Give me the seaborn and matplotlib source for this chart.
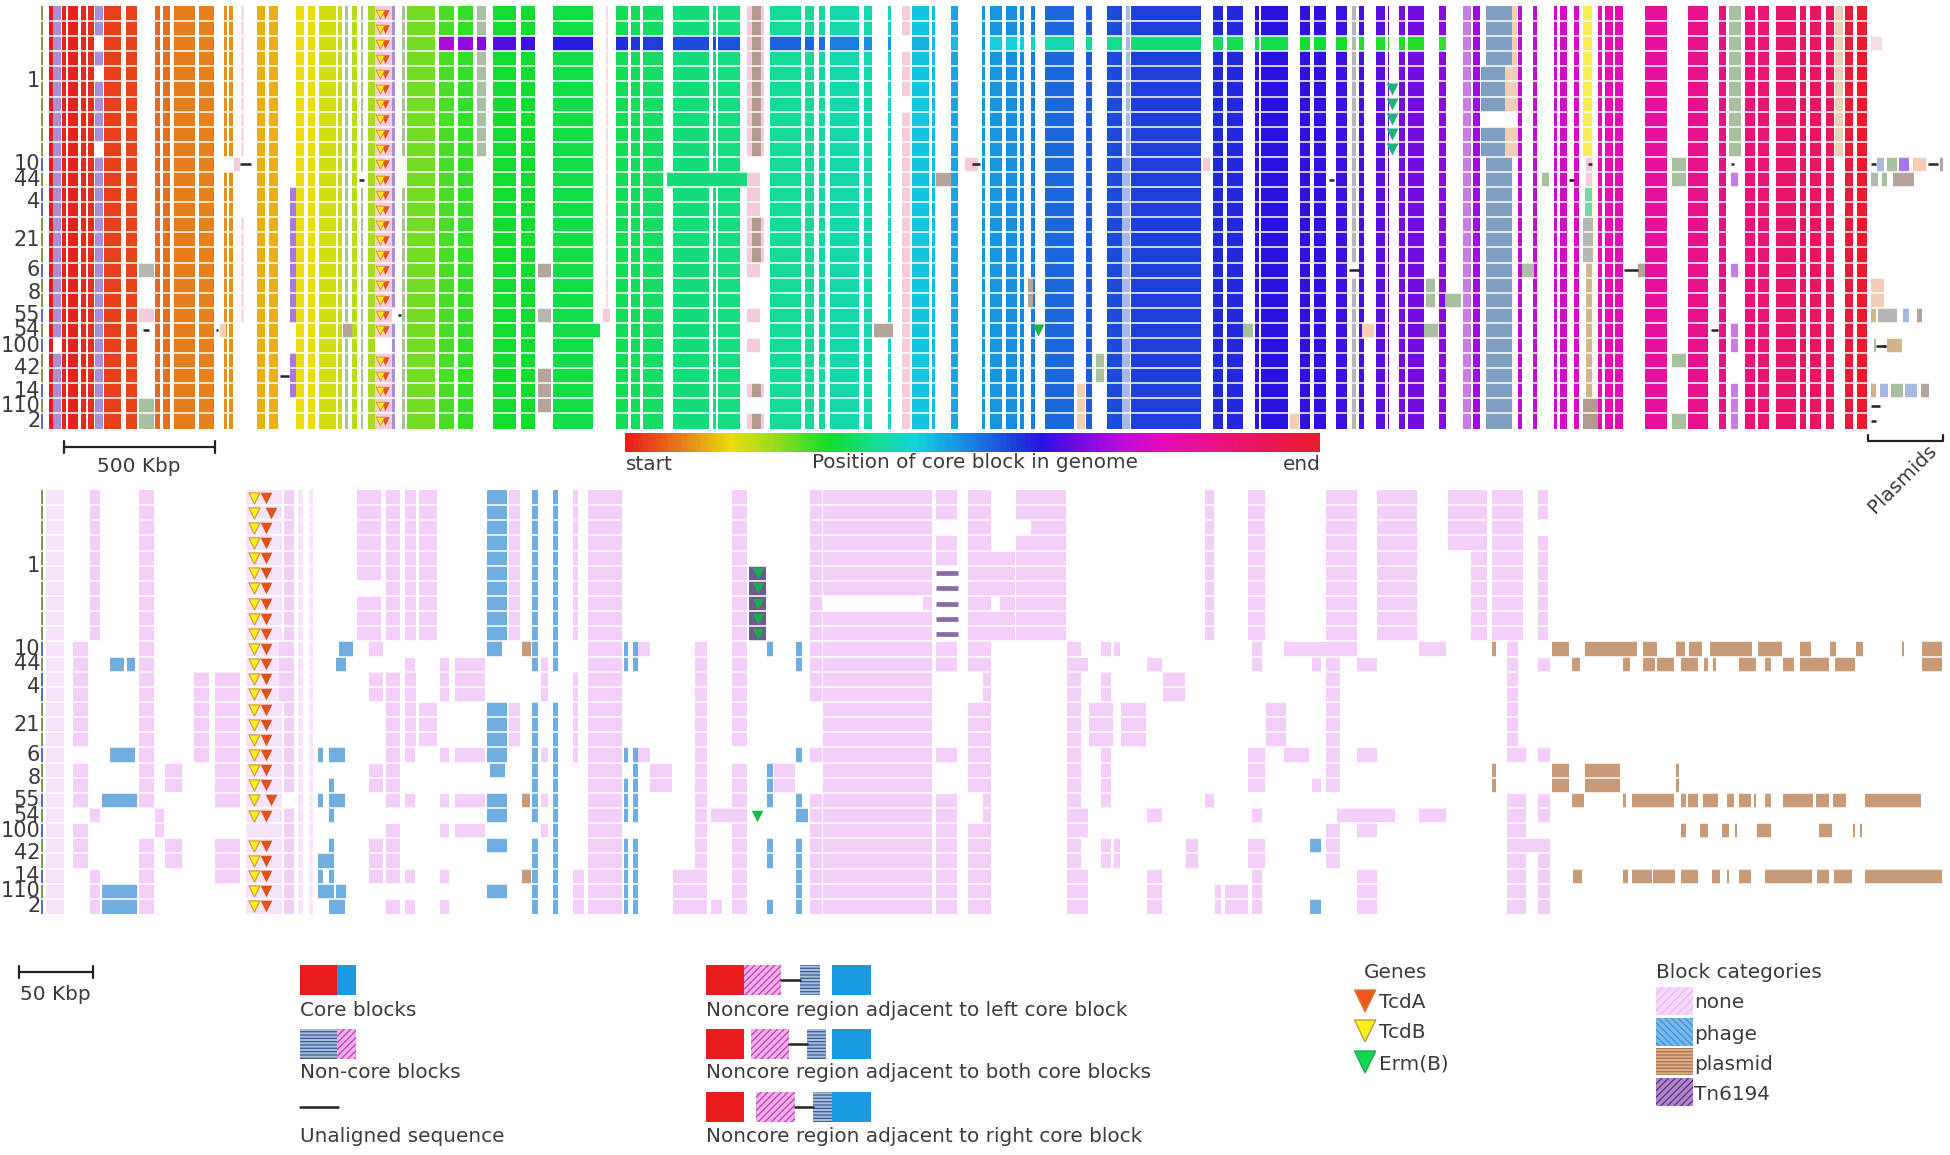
import numpy as np
import matplotlib
matplotlib.use('Agg')
import matplotlib.pyplot as plt
from matplotlib.colors import LinearSegmentedColormap, ListedColormap
from matplotlib.patches import Rectangle, Polygon
import seaborn as sns

sns.set_theme(style='white')
plt.rcParams['font.family'] = ['DejaVu Sans']
plt.rcParams['hatch.linewidth'] = 0.9


def R(a, b):
    return list(range(a, b + 1))


ALL = R(0, 27)

# strains, with the row numbers that belong to each label
strain_labels = ['1', '10', '44', '4', '21', '6', '8', '55', '54', '100', '42', '14', '110', '2']
strain_first = [0, 10, 11, 12, 14, 17, 18, 20, 21, 22, 23, 25, 26, 27]
strain_last = [9, 10, 11, 13, 16, 17, 19, 20, 21, 22, 24, 25, 26, 27]
strip_blue_rows = [10, 12, 13, 17, 20, 22, 25, 27]

# colour scale of the core block position
scale_pos = [0, .08, .15, .22, .29, .36, .42, .50, .56, .60, .66, .72, .78, .87, 1]
scale_col = ['#e81c1c', '#e57f1c', '#e9dc0c', '#8fdc20', '#12dc2d', '#16dc90', '#14cfdc', '#1a7fe0',
             '#1d3fd8', '#2a12e0', '#7a0ce0', '#c00cd8', '#e60cb8', '#e81478', '#e81c2c']

# core blocks, upper map: start, end, position in genome
core_start = [48.9, 62.2, 68.4, 80.8, 87.9, 103.6, 126, 155, 162.5, 174.1, 199, 223.8, 228.8, 257, 268.6,
              296.4, 307.6, 319.2, 337.8, 352.3, 368, 407, 439.4, 458, 493.3, 521.4, 552.9, 616, 631.3, 643.3,
              672.8, 713, 718.4, 770.2, 805.4, 818.7, 829.5, 863.5, 888.3, 912, 931.9, 951.3, 981.6, 989.9,
              1005.6, 1019.7, 1031.3, 1045, 1085.6, 1107.2, 1130.8, 1212.9, 1227, 1255.2, 1261.4, 1300, 1313.7,
              1335.6, 1358.9, 1375.9, 1387.5, 1398.7, 1407.8, 1439.3, 1472.8, 1518.4, 1533.4, 1553.7, 1560.3,
              1573.6, 1597.6, 1604.7, 1615, 1645.3, 1688.4, 1718.7, 1744.8, 1758.4, 1775.8, 1800.3, 1809.8,
              1826.4, 1845.1, 1856.7]
core_end = [53.1, 66.3, 77.9, 85.8, 93.7, 121, 136.8, 160, 170, 194.8, 213.9, 227.1, 233, 265.3, 277.7,
            303.8, 315, 335.7, 341.5, 357.3, 375.1, 435.2, 453.9, 472.5, 516, 534.7, 592.7, 628, 640.4, 663.3,
            708.9, 715.5, 740, 801.3, 813.7, 825.3, 859.3, 872.2, 891.2, 928.5, 934.8, 958, 984.9, 1002.3,
            1016.8, 1024.3, 1034.7, 1073.6, 1091.9, 1121.7, 1201.3, 1222.8, 1242.7, 1259.3, 1287.5, 1310.4,
            1325.7, 1347.3, 1363.8, 1385, 1389.1, 1405.3, 1423.5, 1445.9, 1479.5, 1521.8, 1536.7, 1557, 1567.4,
            1579, 1601.8, 1613, 1622.5, 1666.8, 1707.5, 1725.7, 1754.7, 1769.2, 1796.2, 1805.7, 1821,
            1833.5, 1852.5, 1867]
core_pos = [0, .005, .005, .01, .015, .03, .035, .065, .07, .08, .085, .095, .095, .12, .12,
            .15, .15, .17, .175, .19, .20, .235, .26, .27, .29, .29, .31, .32, .325, .33,
            .345, .345, .35, .365, .37, .375, .38, .385, .40, .43, .44, .46, .48, .48,
            .485, .49, .50, .52, .535, .55, .56, .58, .58, .60, .60, .605, .605,
            .61, .62, .635, .64, .655, .655, .67, .69, .72, .73, .74, .75,
            .76, .78, .78, .785, .82, .84, .86, .87, .875, .89, .90, .91,
            .92, .97, 1.0]

# the third strain carries a large inversion: these blocks have other colours there
flip_start = [439.4, 458, 476.7, 493.3, 521.4, 552.9, 616, 631.3, 643.3, 672.8, 713, 718.4, 770.2, 805.4, 818.7,
              829.5, 863.5, 888.3, 912, 931.9, 951.3, 989.9, 1005.6, 1019.7, 1031.3, 1045, 1085.6, 1107.2, 1130.8,
              1212.9, 1227, 1255.2, 1261.4, 1300, 1313.7, 1335.6, 1358.9, 1375.9, 1387.5, 1398.7, 1407.8, 1439.3]
flip_end = [453.9, 472.5, 485.8, 516, 534.7, 592.7, 628, 640.4, 663.3, 708.9, 715.5, 740, 801.3, 813.7, 825.3,
            859.3, 872.2, 891.2, 928.5, 934.8, 958, 1002.3, 1016.8, 1024.3, 1034.7, 1073.6, 1091.9, 1121.7, 1201.3,
            1222.8, 1242.7, 1259.3, 1287.5, 1310.4, 1325.7, 1347.3, 1363.8, 1385, 1389.1, 1405.3, 1423.5, 1445.9]
flip_pos = [.70, .68, .665, .63, .61, .59, .575, .565, .56, .55, .55, .54, .53, .525, .515,
            .50, .485, .47, .45, .44, .44, .42, .415, .41, .40, .385, .37, .36, .34,
            .325, .32, .315, .31, .295, .295, .29, .285, .285, .28, .28, .28, .27]

# single strain differences in the core blocks
core_gap = [(223.8, 233, 10), (53, 61, 22), (378, 385.5, 22)]
core_more = [(667, 747, .345, 11), (552.9, 600, .31, 21)]

# non core blocks of the upper map
nc_names = ['strip_g', 'strip_b', 'lilac', 'rose', 'sage', 'grey', 'taupe', 'violet', 'brown', 'peach', 'steel',
            'orchid', 'phage', 'yellow', 'mint', 'tan', 'pale']
nc_colors = ['#7f9c40', '#4f6fd2', '#a890d8', '#f5cbdc', '#a9c0a0', '#b5b8b0', '#b4a49c', '#a678ec', '#b39a8e',
             '#f3cdb4', '#a8b8e0', '#c77ee4', '#7f9fc2', '#f6ee52', '#78d8a4', '#d2b48c', '#f3dce8']
upper_noncore = [
    (53.1, 61.3, 'lilac', R(0, 21) + R(23, 27)),
    (94.5, 102.8, 'lilac', [0, 1, 3, 5, 6, 7, 8] + R(10, 27)),
    (375, 391.7, 'rose', R(0, 21) + R(23, 27)), (391.7, 395, 'lilac', R(0, 19) + R(21, 27)),
    (402, 405, 'sage', R(0, 9) + R(12, 27)), (345, 348, 'sage', R(0, 20) + R(22, 27)), (361, 363, 'sage', R(0, 10) + R(12, 27)),
    (476.7, 485.8, 'sage', [0, 1, 3, 4, 5, 6, 7, 8, 9]),
    (139, 154, 'grey', [17]), (139, 154, 'rose', [20]), (139, 154, 'sage', [26, 27]),
    (538, 551, 'taupe', [17, 24, 25, 26]), (538, 551, 'grey', [20]),
    (234, 240, 'rose', [10]), (241, 244, 'pale', R(0, 9) + R(14, 20)),
    (290, 296, 'violet', R(12, 20) + [23, 24, 25]),
    (343, 351.5, 'taupe', [21]), (220, 226, 'peach', [21]),
    (605.5, 608, 'pale', R(0, 9) + R(10, 20)), (603, 610, 'rose', [20]),
    (752, 761, 'brown', R(0, 9) + R(14, 16) + [25, 27]),
    (747.4, 752, 'rose', R(0, 9) + R(14, 16) + [25, 27]), (761, 764, 'rose', R(0, 9) + R(14, 16) + [25, 27]),
    (747.4, 760, 'rose', [11, 12, 13, 17, 20, 22]),
    (902, 910.3, 'rose', [0, 1, 3, 4, 5, 7, 8, 9] + R(10, 27)),
    (936, 950.5, 'taupe', [11]), (965, 977.5, 'rose', [10]), (874, 892.5, 'taupe', [21]),
    (1028, 1033, 'taupe', [18, 19]), (1095.6, 1104, 'sage', [23, 24]),
    (1077, 1085, 'peach', [25, 26, 27]), (1121.7, 1130, 'steel', R(10, 27)), (1126, 1130, 'steel', R(0, 9)),
    (1203.4, 1209.6, 'rose', [10]), (1243, 1253, 'sage', [21]), (1290.4, 1298.7, 'peach', [27]),
    (1351.8, 1356, 'grey', R(0, 16) + R(18, 27)), (1362, 1373.8, 'peach', [21]),
    (1425.6, 1434.7, 'sage', [18, 19]), (1424, 1437.6, 'sage', [21]), (1445, 1461, 'sage', [19]),
    (1462.9, 1471.2, 'orchid', ALL),
    (1485.7, 1512.2, 'phage', R(0, 3) + R(10, 27)),
    (1480.5, 1505, 'phage', [4, 5, 6, 8, 9]), (1505, 1517.6, 'peach', [4, 5, 6, 8, 9]),
    (1512.2, 1517, 'peach', [0, 1, 2, 3]),
    (1521.8, 1534.2, 'grey', [17]), (1541.6, 1548.7, 'sage', [11]),
    (1583.1, 1592.2, 'yellow', R(0, 9)), (1585, 1592, 'mint', [12, 13]), (1583, 1593, 'grey', [14, 15, 16]),
    (1586, 1592, 'tan', R(17, 25)), (1583, 1598, 'brown', [26, 27]), (1586, 1592, 'rose', [10, 11]),
    (1638, 1645, 'taupe', [17]),
    (1672, 1685.5, 'sage', [10, 11, 23, 27]),
    (1729, 1741.4, 'sage', R(0, 9)), (1731, 1738, 'orchid', [11, 17, 21, 22, 25, 26, 27]),
    (1834.7, 1843, 'peach', R(0, 9)),
    (1871, 1882, 'pale', [2]),
    (1877, 1884.4, 'steel', [10]), (1886.5, 1896.9, 'sage', [10]), (1899, 1909.3, 'violet', [10]),
    (1912.6, 1925.9, 'peach', [10]), (1940.4, 1942.5, 'taupe', [10]),
    (1871.2, 1878.2, 'grey', [11]), (1882.4, 1886.5, 'sage', [11]), (1892.7, 1913.5, 'taupe', [11]),
    (1871.2, 1883.6, 'peach', [18, 19]), (1871.2, 1876.1, 'tan', [20]), (1878.2, 1896.9, 'grey', [20]),
    (1903.1, 1909.3, 'steel', [20]), (1916.8, 1921.8, 'taupe', [20]),
    (1874, 1876, 'sage', [22]), (1886.5, 1901.9, 'tan', [22]),
    (1871.2, 1876.1, 'tan', [25]), (1879.5, 1887.8, 'steel', [25]), (1890.7, 1903.1, 'sage', [25]),
    (1905.2, 1916.8, 'steel', [25]), (1920.5, 1929.2, 'taupe', [25]),
]

# unaligned sequence: row, start, end
dash_row = [10, 11, 21, 21, 24, 20, 10, 11, 17, 17, 21, 10, 11, 22, 10, 26, 27, 22, 10, 11, 10]
dash_start = [240, 358.5, 143, 215.5, 280, 398, 972, 1329, 1349, 1624, 1711, 1871.2, 1570, 1876, 1928, 1871.2, 1871.2, 1883, 1731, 1569, 1588]
dash_end = [251, 363.5, 149, 217.6, 288.5, 401, 979.5, 1334, 1359, 1638, 1718, 1876.1, 1574, 1886, 1938.3, 1880.3, 1876.1, 1886, 1734, 1572, 1592]

# block categories of the lower map
faint_blocks = [(46.4, 64.2, ALL), (298, 303, ALL), (309, 313, ALL), (246, 282, ALL)]
none_blocks = [
    (72.5, 87.9, R(10, 16) + R(18, 20) + [22, 23, 24]), (90, 100.3, R(0, 9) + [21, 25, 26, 27]),
    (138.9, 154.2, R(0, 20) + R(23, 27)), (155.4, 163.7, [21, 22]), (164.6, 181.5, [18, 19, 23, 24]),
    (194, 209.3, R(12, 17)), (214.7, 239.6, R(12, 20) + [23, 24, 25]), (284, 294.3, R(0, 19) + R(21, 27)),
    (278.6, 284, [10, 11, 12, 13]), (357.3, 381.3, R(0, 5) + R(7, 9)), (385.5, 400, R(0, 9) + R(12, 16)),
    (405, 415.7, R(0, 9) + R(12, 16)), (418.6, 436.5, R(0, 9) + R(14, 16)), (455, 485, [11, 12, 13, 17, 20, 22]),
    (509, 520, R(0, 9) + R(14, 16)), (573, 578, R(0, 9) + R(12, 17)), (573, 584, [25, 26, 27]),
    (587.8, 621.8, ALL), (369, 383, [10, 12, 13, 18, 19, 23, 24, 25]), (385.5, 400, [17, 18, 19, 20, 22, 23, 24, 25, 27]),
    (405, 414.5, [11, 17, 20, 25, 27]), (440, 448.5, [11, 12, 13, 17, 20, 22, 25, 27]), (541, 548, [11, 12, 13, 17, 20, 22]),
    (638, 650, [10, 17]), (650, 671.6, [18, 19]), (694.8, 706.8, R(10, 27)), (672.8, 706.8, [25, 26, 27]),
    (711.3, 746.6, [21]), (711.3, 722, [27]), (731.7, 747.4, R(0, 16) + R(18, 20) + R(22, 27)),
    (773.5, 795, [18, 19]), (809.6, 822, R(0, 13) + [17, 20, 21, 22, 23, 24, 25, 26, 27]),
    (823.3, 931.9, R(0, 6) + R(8, 27)), (923, 931.9, [7]), (809.6, 822, [7]),
    (936, 956.7, [0, 1, 3, 4] + [10, 11, 17, 20, 21, 22, 23, 24, 25, 26, 27]),
    (968, 990.7, R(0, 11) + R(14, 19) + R(22, 27)), (982.8, 990.7, [12, 13, 20, 21]),
    (990.7, 1014.8, [4, 5, 6, 8, 9]), (1000, 1014.8, [7]), (1015.6, 1031.3, [0, 1, 3, 4, 5, 6, 7, 8, 9]),
    (1031.3, 1065.7, R(0, 9)), (1066.6, 1081, R(10, 27)), (1081, 1088, [11, 21, 22, 25, 26, 27]),
    (1101, 1111, [10, 12, 13, 17, 18, 19, 20, 23, 24]), (1113.7, 1119.6, [10, 23, 24]), (1089.4, 1113.4, [14, 15, 16]),
    (1120.5, 1146, [14, 15, 16]), (1146.6, 1162, [11, 21, 25, 26, 27]), (1163.2, 1184.7, [12, 13]),
    (1186, 1198, [23, 24]), (1204.6, 1213.7, R(0, 9) + [20]), (1214.6, 1221.2, [26, 27]), (1225.3, 1247.7, [26, 27]),
    (1248.1, 1264.7, R(0, 9) + [17, 18, 19, 23, 24]), (1252, 1262, [10, 11, 21, 25, 26, 27]),
    (1266.4, 1286.3, [14, 15, 16]), (1284, 1300, [10, 17]),
    (1325.7, 1356.8, R(0, 9)), (1300, 1356.8, [10]), (1325.7, 1340.2, R(11, 19) + [22, 23, 24]),
    (1336.5, 1394.5, [21]), (1312.4, 1320.7, [11, 19]), (1300, 1309, [17]), (1377.1, 1417.3, R(0, 9)),
    (1357.2, 1376.7, [11, 17, 22, 25, 26, 27]), (1419.4, 1446.3, [10, 21]), (1448, 1475.3, [0, 1, 2, 3]),
    (1470.8, 1486.5, R(0, 9)), (1491.9, 1523, R(0, 9)), (1507.3, 1517.6, R(10, 16)), (1507.3, 1525.9, [17] + R(20, 27)),
    (1537.5, 1547.5, [0, 1, 3, 4, 5, 6, 7, 8, 9]), (1537.5, 1550, [11, 17, 20, 21, 24, 25, 26, 27]), (1515.5, 1550, [23]),
]
phage_blocks = [
    (110, 123.5, [11]), (126.5, 134.7, [11]), (110, 134.7, [17]), (101.6, 137, [20, 26, 27]),
    (339, 353, [10]), (336, 346, [11]), (318, 333.7, [24, 26]), (318, 323, [17, 20, 25]),
    (328.7, 345, [17, 20, 27]), (328.7, 333.7, [19, 21, 23, 25]), (336, 346, [26]),
    (487, 506.5, R(0, 9) + R(14, 17) + [20, 21, 23, 26]), (487, 502, [10]), (490, 505, [18]),
    (531.8, 538, R(0, 11) + R(14, 21) + R(23, 27)), (553.4, 557.5, R(0, 11) + R(14, 27)),
    (623.8, 628, [10, 11, 17, 19, 20, 21, 23, 24, 25, 26, 27]),
    (633.3, 638.3, [10, 11, 17, 18, 19, 20, 21, 23, 24, 25, 26, 27]),
    (767.3, 773.1, [10, 18, 19, 20, 23, 24, 27]), (795.9, 801.7, [10, 11, 17, 20, 23, 24, 25, 26, 27]),
    (795.9, 808, [21]), (1310.4, 1320.7, [23, 27]),
]
tn_blocks = [(748.7, 766, R(5, 9))]
plasmid_blocks = [
    (521.5, 531.4, [10, 25]), (521.5, 530, [20]), (1491.5, 1495.6, [10, 18, 19]),
    (1551.6, 1569.4, [10, 18, 19]), (1585.2, 1620, [18, 19]), (1676.4, 1678.9, [18, 19]),
    (1585.2, 1636.6, [10]), (1642.8, 1656.5, [10]), (1676, 1684.7, [10]), (1688.8, 1702.1, [10]),
    (1710.4, 1751.8, [10]), (1757.6, 1781.6, [10]), (1799.5, 1811.1, [10]), (1829.7, 1835.5, [10]),
    (1856.3, 1862.9, [10]), (1902.3, 1903.9, [10]), (1921.8, 1941.6, [10, 11]),
    (1571.5, 1579.8, [11]), (1623.3, 1630.4, [11]), (1642.8, 1654.8, [11]), (1657.3, 1673.9, [11]),
    (1680.5, 1697.9, [11]), (1704.1, 1708.3, [11]), (1712.8, 1715.7, [11]), (1738.5, 1755.9, [11]),
    (1765.1, 1770.9, [11]), (1782.9, 1794.1, [11]), (1799.5, 1828.5, [11]), (1834.7, 1855.4, [11]),
    (1572.3, 1584.3, [20]), (1623.3, 1626.2, [20]), (1631.6, 1674.3, [20]), (1680.5, 1685.5, [20]),
    (1688.4, 1697.9, [20]), (1703.3, 1717.8, [20]), (1726.9, 1734.4, [20]), (1738.5, 1751, [20]),
    (1753.9, 1755.9, [20]), (1765.1, 1770.9, [20]), (1782.9, 1812.7, [20]), (1816.1, 1828.5, [20]),
    (1832.6, 1846.3, [20]), (1864.5, 1920.9, [20]),
    (1680.5, 1685.5, [22]), (1700, 1708.3, [22]), (1721.5, 1729.4, [22]), (1735.2, 1737.3, [22]),
    (1756.8, 1770.9, [22]), (1819, 1832.2, [22]), (1853.3, 1855.4, [22]), (1859.6, 1862.1, [22]),
    (1572.7, 1581.9, [25]), (1623.3, 1628.3, [25]), (1631.6, 1651.5, [25]), (1653.2, 1674.7, [25]),
    (1680.5, 1697.9, [25]), (1712.4, 1719.9, [25]), (1726.9, 1728.6, [25]), (1738.5, 1750.6, [25]),
    (1765.1, 1811.9, [25]), (1816.9, 1828.5, [25]), (1833.5, 1852.1, [25]), (1864.5, 1941.6, [25]),
]
tn_thin_rows = R(5, 9)
tn_thin_span = (936, 958)

# genes
tcdb_rows = R(0, 21) + R(23, 27)
tcda_rows = R(0, 21) + R(23, 27)
erm_rows = R(5, 9)
top_tcdb_x, top_tcda_x, top_erm_x, top_erm_x_54 = 380, 385, 1392, 1037.6
low_tcdb_x, low_tcda_x, low_erm_x, low_erm_x_54 = 253.7, 266, 757.8, 756.5
low_tcda_shift_rows = [1, 20]
low_tcda_shift_x = 270.7

X0, X1 = 41, 1950
PER = 2
ncols = (X1 - X0) * PER
text_col = '#3a3a3a'


def cx(x):
    return (np.asarray(x) - X0) * PER


def put(mat, x0, x1, rows, value):
    mat[np.ix_(rows, np.arange(int(cx(x0)), int(cx(x1))))] = value


def panel_axes(y_top, y_bot):
    return fig.add_axes([X0 / 1950, 1 - y_bot / 1155, (X1 - X0) / 1950, (y_bot - y_top) / 1155])


def finish_rows(ax):
    ax.hlines(np.arange(1, 28), 0, ncols, color='white', lw=1.1, zorder=3)
    ticks = [(a + b + 1) / 2 for a, b in zip(strain_first, strain_last)]
    ax.set_yticks(ticks)
    ax.set_yticklabels(strain_labels, fontsize=15, color=text_col, rotation=0, va='center')
    ax.tick_params(axis='y', length=0, pad=0.5)
    ax.set_xticks([])
    for s in ax.spines.values():
        s.set_visible(False)


fig = plt.figure(figsize=(19.5, 11.55), dpi=100)
block_cmap = LinearSegmentedColormap.from_list('block', list(zip(scale_pos, scale_col)))

# upper map
top = np.full((28, ncols), np.nan)
for s, e, p in zip(core_start, core_end, core_pos):
    put(top, s, e, ALL, p)
for s, e, p in zip(flip_start, flip_end, flip_pos):
    put(top, s, e, [2], p)
for s, e, p, r in core_more:
    put(top, s, e, [r], p)
for s, e, r in core_gap:
    put(top, s, e, [r], np.nan)

nc = np.full((28, ncols), np.nan)
put(nc, 41, 43, ALL, nc_names.index('strip_g'))
put(nc, 41, 43, strip_blue_rows, nc_names.index('strip_b'))
for s, e, name, rows in upper_noncore:
    put(nc, s, e, rows, nc_names.index(name))

ax_top = panel_axes(6, 428.5)
sns.heatmap(top, ax=ax_top, cmap=block_cmap, vmin=0, vmax=1, cbar=False, xticklabels=False, yticklabels=False)
sns.heatmap(nc, ax=ax_top, cmap=ListedColormap(nc_colors), vmin=0, vmax=len(nc_colors) - 1, cbar=False,
            xticklabels=False, yticklabels=False)
finish_rows(ax_top)

rows_mid = np.array(tcdb_rows) + .5
ax_top.scatter(cx([top_tcda_x] * len(tcda_rows)), rows_mid, marker='v', s=38, c='#e0561c', linewidths=0, zorder=4)
ax_top.scatter(cx([top_tcdb_x] * len(tcdb_rows)), rows_mid, marker='v', s=40, c='#f8e81c',
               edgecolors='#d09020', linewidths=.6, zorder=5)
ax_top.scatter(cx([top_erm_x] * len(erm_rows)), np.array(erm_rows) + .5, marker='v', s=75, c='#1fb27a',
               linewidths=0, zorder=5)
ax_top.scatter(cx([top_erm_x_54]), [21.5], marker='v', s=75, c='#1fb24a', linewidths=0, zorder=5)
ax_top.hlines(np.array(dash_row) + .5, cx(dash_start), cx(dash_end), color='#222222', lw=1.8, zorder=6)

# lower map
cat_colors = ['#f8e4fa', '#f3cffa', '#70aee2', '#c89a78', '#6f5a8c']
low = np.full((28, ncols), np.nan)
put(low, 41, 43, ALL, 5)
put(low, 41, 43, strip_blue_rows, 6)
for k, blocks in enumerate([faint_blocks, none_blocks, phage_blocks, plasmid_blocks, tn_blocks]):
    for s, e, rows in blocks:
        put(low, s, e, rows, k)

ax_low = panel_axes(490, 914)
sns.heatmap(low, ax=ax_low, cmap=ListedColormap(cat_colors + ['#7f9c40', '#4f6fd2']), vmin=0, vmax=6, cbar=False,
            xticklabels=False, yticklabels=False)
finish_rows(ax_low)

rows_mid = np.array(tcdb_rows) + .5
tcda_x = [low_tcda_shift_x if r in low_tcda_shift_rows else low_tcda_x for r in tcda_rows]
ax_low.scatter(cx(tcda_x), rows_mid, marker='v', s=70, c='#e0521c', linewidths=0, zorder=4)
ax_low.scatter(cx([low_tcdb_x] * len(tcdb_rows)), rows_mid, marker='v', s=65, c='#f8ee1c',
               edgecolors='#d09a30', linewidths=.8, zorder=5)
ax_low.scatter(cx([low_erm_x] * len(erm_rows)), np.array(erm_rows) + .5, marker='v', s=65, c='#14b050',
               linewidths=0, zorder=5)
ax_low.scatter(cx([low_erm_x_54]), [21.5], marker='v', s=70, c='#18b84a', linewidths=0, zorder=5)
ax_low.hlines(np.array(tn_thin_rows) + .5, cx(tn_thin_span[0]), cx(tn_thin_span[1]), color='#8a6aa8', lw=3.4, zorder=4)

# gradient bar
ax_bar = fig.add_axes([625 / 1950, 1 - 452 / 1155, 695 / 1950, 19 / 1155])
sns.heatmap(np.linspace(0, 1, 400)[None, :], ax=ax_bar, cmap=block_cmap, vmin=0, vmax=1, cbar=False,
            xticklabels=False, yticklabels=False)

# everything else is laid over the figure in reference pixels
ov = fig.add_axes([0, 0, 1, 1], facecolor='none')
ov.set_xlim(0, 1950)
ov.set_ylim(1155, 0)
ov.axis('off')


def label(x, y, s, ha='left', size=14.4, **kw):
    ov.text(x, y, s, ha=ha, va='center', fontsize=size, color=text_col, **kw)


def scale_bar(x0, x1, y):
    ov.plot([x0, x1], [y, y], color='#222222', lw=1.6)
    ov.plot([x0, x0], [y - 6, y + 6], color='#222222', lw=1.6)
    ov.plot([x1, x1], [y - 6, y + 6], color='#222222', lw=1.6)


def box(x0, x1, y0, y1, color, hatch=None, edge=None):
    ov.add_patch(Rectangle((x0, y0), x1 - x0, y1 - y0, facecolor=color, hatch=hatch,
                           edgecolor=edge if edge else color, lw=0))


RED, BLUE = '#e81c1c', '#1a9ae0'
PINK_H = dict(color='#f2b0ea', hatch='/////', edge='#c23ab4')
BLUE_H = dict(color='#a6bcdc', hatch='-----', edge='#3c5c94')

scale_bar(64, 214.7, 446.7)
label(139, 467, '500 Kbp', ha='center')
label(626, 464, 'start')
label(975, 463, 'Position of core block in genome', ha='center')
label(1321, 464, 'end', ha='right')
ov.plot([1868, 1868, 1942.5, 1942.5], [435, 441, 441, 435], color='#222222', lw=1.6)
ov.text(1902, 479, 'Plasmids', ha='center', va='center', fontsize=14.4, color=text_col, rotation=45)

scale_bar(19, 92.5, 971.7)
label(20, 995, '50 Kbp')

box(300, 337, 965, 995, RED)
box(337, 356, 965, 995, BLUE)
label(300, 1010, 'Core blocks')
box(300, 337, 1029, 1059, **BLUE_H)
box(337, 356, 1029, 1059, **PINK_H)
label(300, 1073, 'Non-core blocks')
ov.plot([300, 338], [1107, 1107], color='#222222', lw=1.8)
label(300, 1137, 'Unaligned sequence')

noncore_legend = [
    (965, 744, 781, 800, 819.5, 'Noncore region adjacent to left core block', 1010),
    (1029, 750.6, 789, 806.8, 826, 'Noncore region adjacent to both core blocks', 1073),
    (1092, 755.7, 795, 813, 832, 'Noncore region adjacent to right core block', 1137),
]
for y, a, b, c, d, txt, ty in noncore_legend:
    box(706, 744, y, y + 30, RED)
    box(a, b, y, y + 30, **PINK_H)
    ov.plot([b, c], [y + 15, y + 15], color='#222222', lw=1.8)
    box(c, d, y, y + 30, **BLUE_H)
    box(832, 870.5, y, y + 30, BLUE)
    label(706, ty, txt)

label(1396, 973, 'Genes', ha='center')
gene_names = ['TcdA', 'TcdB', 'Erm(B)']
gene_cols = ['#f0561c', '#f8f01c', '#14d850']
gene_edges = ['#d08040', '#b8a048', '#20a860']
for name, col, edge, y in zip(gene_names, gene_cols, gene_edges, [990, 1020, 1051]):
    ov.add_patch(Polygon([(1354.5, y), (1375.8, y), (1365, y + 22)], closed=True, facecolor=col, edgecolor=edge, lw=1))
    label(1379, y + 13, name)

label(1656, 973, 'Block categories')
cat_names = ['none', 'phage', 'plasmid', 'Tn6194']
cat_style = [dict(color='#f6d8fa', hatch='////', edge='#f0b8f4'), dict(color='#78b8ea', hatch='\\\\\\\\\\', edge='#3a90d4'),
             dict(color='#dcae8c', hatch='-----', edge='#a87048'), dict(color='#b088c8', hatch='/////', edge='#5a2a80')]
for name, st, y0, y1, ty in zip(cat_names, cat_style, [987, 1018, 1048, 1078], [1015, 1046, 1075, 1106], [1003, 1034, 1064, 1095]):
    box(1656, 1693, y0, y1, **st)
    label(1694, ty, name)

fig.savefig('out.png', dpi=100, facecolor='white')
